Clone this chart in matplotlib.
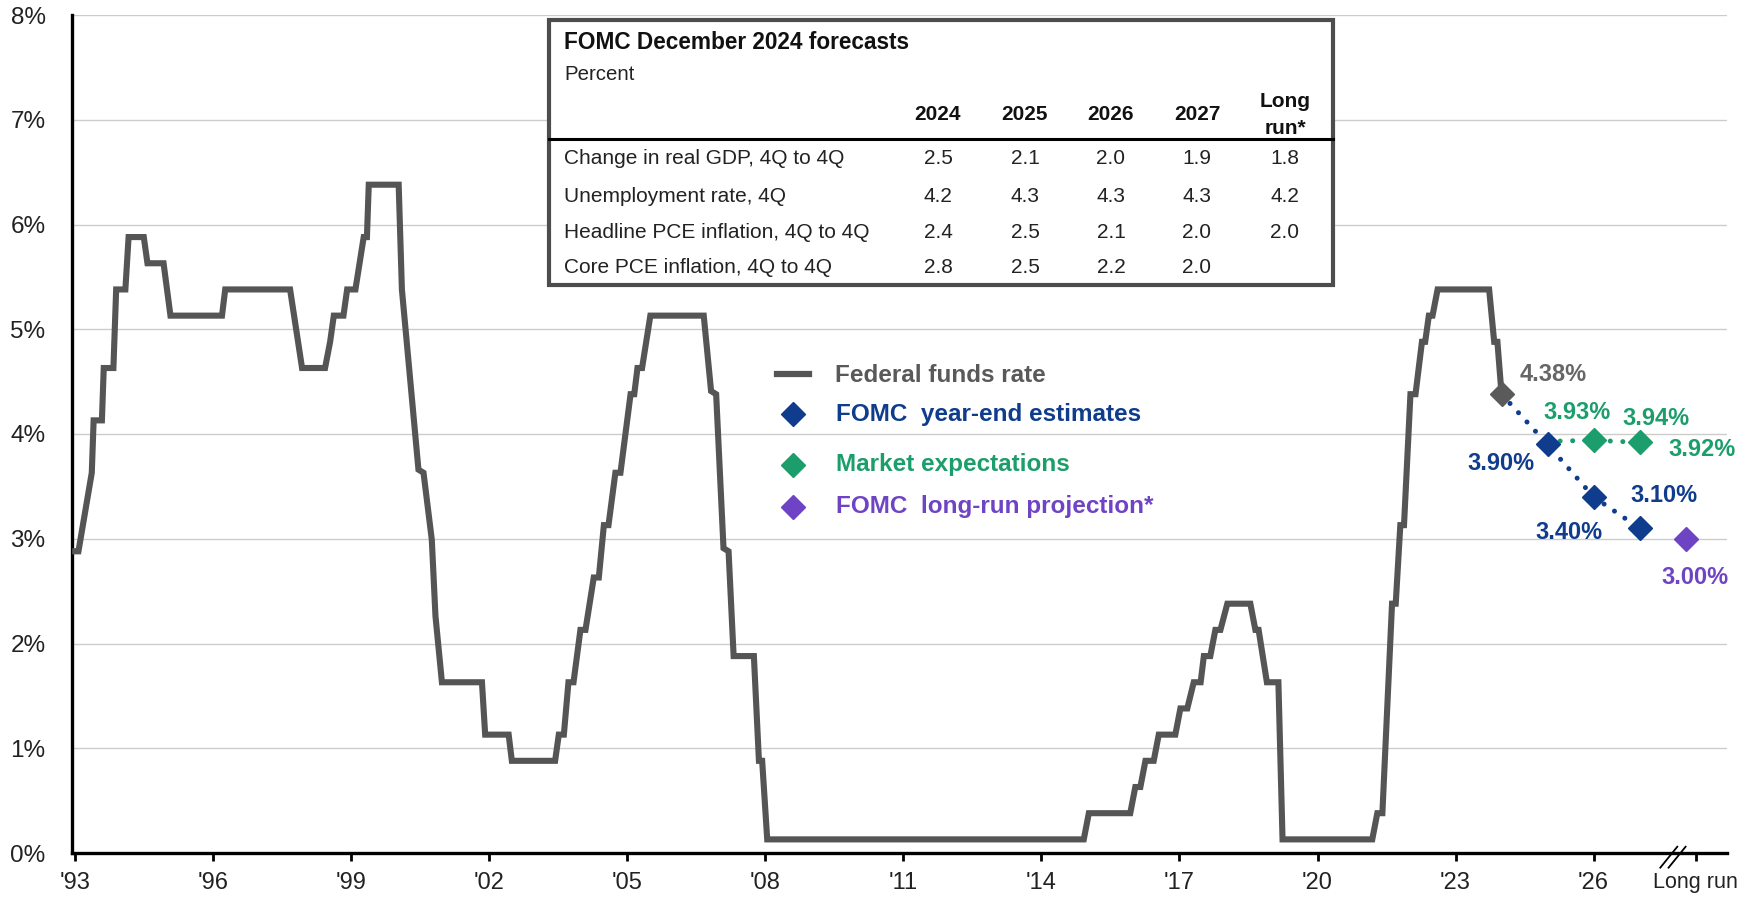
import matplotlib
matplotlib.use('Agg')
import matplotlib.pyplot as plt
from matplotlib.lines import Line2D
from matplotlib.patches import Rectangle

plt.rcParams['font.family'] = ['Liberation Sans', 'DejaVu Sans']

# Federal funds rate, vertices of the line (x in chart-year units)
FFR_X = [
    1993.00, 1993.07, 1993.36, 1993.40, 1993.58, 1993.62, 1993.83, 1993.89, 1994.09, 1994.16,
    1994.49, 1994.57, 1994.92, 1995.07, 1996.19, 1996.26, 1997.67, 1997.93, 1998.43, 1998.54,
    1998.62, 1998.83, 1998.91, 1999.09, 1999.27, 1999.34, 1999.38, 2000.03, 2000.10, 2000.46,
    2000.57, 2000.75, 2000.83, 2000.97, 2001.84, 2001.91, 2002.42, 2002.49, 2003.43, 2003.51,
    2003.62, 2003.72, 2003.83, 2003.98, 2004.09, 2004.27, 2004.38, 2004.49, 2004.59, 2004.74,
    2004.85, 2005.07, 2005.15, 2005.22, 2005.32, 2005.50, 2006.66, 2006.82, 2006.93, 2007.09,
    2007.20, 2007.31, 2007.75, 2007.86, 2007.93, 2008.04, 2014.92, 2015.03, 2015.93, 2016.04,
    2016.15, 2016.26, 2016.44, 2016.55, 2016.91, 2017.02, 2017.17, 2017.31, 2017.46, 2017.53,
    2017.67, 2017.78, 2017.89, 2018.04, 2018.54, 2018.65, 2018.72, 2018.90, 2019.15, 2019.24,
    2021.19, 2021.30, 2021.41, 2021.62, 2021.70, 2021.80, 2021.88, 2022.02, 2022.13, 2022.27,
    2022.34, 2022.42, 2022.50, 2022.61, 2023.73, 2023.84, 2023.91, 2024.00]
FFR_Y = [
    2.88, 2.88, 3.63, 4.13, 4.13, 4.63, 4.63, 5.38, 5.38, 5.88,
    5.88, 5.63, 5.63, 5.13, 5.13, 5.38, 5.38, 4.63, 4.63, 4.88,
    5.13, 5.13, 5.38, 5.38, 5.88, 5.88, 6.38, 6.38, 5.38, 3.66,
    3.63, 2.99, 2.26, 1.63, 1.63, 1.13, 1.13, 0.88, 0.88, 1.13,
    1.13, 1.63, 1.63, 2.13, 2.13, 2.63, 2.63, 3.13, 3.13, 3.63,
    3.63, 4.38, 4.38, 4.63, 4.63, 5.13, 5.13, 4.41, 4.38, 2.91,
    2.88, 1.88, 1.88, 0.88, 0.88, 0.13, 0.13, 0.38, 0.38, 0.63,
    0.63, 0.88, 0.88, 1.13, 1.13, 1.38, 1.38, 1.63, 1.63, 1.88,
    1.88, 2.13, 2.13, 2.38, 2.38, 2.13, 2.13, 1.63, 1.63, 0.13,
    0.13, 0.38, 0.38, 2.38, 2.38, 3.13, 3.13, 4.38, 4.38, 4.88,
    4.88, 5.13, 5.13, 5.38, 5.38, 4.88, 4.88, 4.38]

# FOMC year-end estimates (first point = current rate)
FOMC_X = [2024, 2025, 2026, 2027]
FOMC_Y = [4.38, 3.90, 3.40, 3.10]
# market expectations
MARKET_X = [2025, 2026, 2027]
MARKET_Y = [3.93, 3.94, 3.92]
# long-run projection
LONG_RUN_X = 2028.0
LONG_RUN_Y = 3.00

TICK_YEARS = [1993, 1996, 1999, 2002, 2005, 2008, 2011, 2014, 2017, 2020, 2023, 2026]
TICK_LABELS = ["'93", "'96", "'99", "'02", "'05", "'08", "'11", "'14", "'17", "'20", "'23", "'26"]
LONG_RUN_TICK = 2028.22
Y_TICKS = [0, 1, 2, 3, 4, 5, 6, 7, 8]

TABLE_TITLE = 'FOMC December 2024 forecasts'
TABLE_COLS = ['2024', '2025', '2026', '2027', 'Long\nrun*']
TABLE_ROWS = ['Change in real GDP, 4Q to 4Q', 'Unemployment rate, 4Q',
              'Headline PCE inflation, 4Q to 4Q', 'Core PCE inflation, 4Q to 4Q']
TABLE_VALUES = [['2.5', '2.1', '2.0', '1.9', '1.8'],
                ['4.2', '4.3', '4.3', '4.3', '4.2'],
                ['2.4', '2.5', '2.1', '2.0', '2.0'],
                ['2.8', '2.5', '2.2', '2.0', '']]

GRAY = '#555555'
BLUE = '#0f3c8c'
GREEN = '#1c9e6c'
PURPLE = '#6f44c4'

W, H = 1756, 902


def fx(x):
    return x / W


def fy(y):
    return 1 - y / H


fig = plt.figure(figsize=(W / 100, H / 100), dpi=100)
ax = fig.add_axes([fx(72), fy(853), (1727 - 72) / W, (853 - 15) / H])

# grid + axes
ax.set_xlim(1992.93, 2028.9)
ax.set_ylim(0, 8)
for v in Y_TICKS[1:]:
    ax.axhline(v, color='#cccccc', lw=1, zorder=1)
for side in ['top', 'right']:
    ax.spines[side].set_visible(False)
for side in ['left', 'bottom']:
    ax.spines[side].set_linewidth(2.4)
    ax.spines[side].set_color('black')
ax.set_yticks(Y_TICKS)
ax.set_yticklabels([f'{v}%' for v in Y_TICKS], fontsize=17.5, color='#222222')
ax.tick_params(axis='y', length=0, pad=19)
ax.set_xticks(TICK_YEARS + [LONG_RUN_TICK])
ax.set_xticklabels(TICK_LABELS + ['Long run'], fontsize=17, color='#222222')
ax.get_xticklabels()[-1].set_fontsize(15.5)
ax.tick_params(axis='x', length=6, width=2, direction='out', pad=8)

# axis break marks
for dx in [0.0, 0.18]:
    ax.plot([2027.45 + dx, 2027.82 + dx], [-0.14, 0.06], color='black', lw=1.3,
            clip_on=False, zorder=6)

# fed funds rate
ax.plot(FFR_X, FFR_Y, color=GRAY, lw=4.4, solid_joinstyle='miter', zorder=3)

# projections
ax.plot(MARKET_X, MARKET_Y, color=GREEN, lw=3.6, linestyle=(0, (0.01, 2.5)),
        dash_capstyle='round', zorder=4)
ax.plot(FOMC_X, FOMC_Y, color=BLUE, lw=3.6, linestyle=(0, (0.01, 2.5)),
        dash_capstyle='round', zorder=4)
ax.plot(MARKET_X[1:], MARKET_Y[1:], 'D', color=GREEN, ms=12, zorder=5)
ax.plot(FOMC_X[1:], FOMC_Y[1:], 'D', color=BLUE, ms=12, zorder=6)
ax.plot(FOMC_X[0], FOMC_Y[0], 'D', color='#5a5a5a', ms=12, zorder=6)
ax.plot(LONG_RUN_X, LONG_RUN_Y, 'D', color=PURPLE, ms=12, zorder=6)

# point labels
lab = dict(fontsize=17, weight='bold', ha='center', va='center', zorder=7)
ax.text(2025.13, 4.57, f'{FOMC_Y[0]:.2f}%', color='#666666', **lab)
ax.text(2023.98, 3.72, f'{FOMC_Y[1]:.2f}%', color=BLUE, **lab)
ax.text(2025.46, 3.06, f'{FOMC_Y[2]:.2f}%', color=BLUE, **lab)
ax.text(2027.52, 3.41, f'{FOMC_Y[3]:.2f}%', color=BLUE, **lab)
ax.text(2025.65, 4.21, f'{MARKET_Y[0]:.2f}%', color=GREEN, **lab)
ax.text(2027.35, 4.15, f'{MARKET_Y[1]:.2f}%', color=GREEN, **lab)
ax.text(2028.35, 3.85, f'{MARKET_Y[2]:.2f}%', color=GREEN, **lab)
ax.text(2028.2, 2.63, f'{LONG_RUN_Y:.2f}%', color=PURPLE, **lab)

# legend (drawn by hand)
fig.add_artist(Line2D([fx(777), fx(809)], [fy(374), fy(374)], color=GRAY, lw=4.5))
fig.text(fx(835), fy(375), 'Federal funds rate', fontsize=17.5, weight='bold',
         color='#595959', va='center')
legend_items = [(414, 'FOMC  year-end estimates', BLUE),
                (465, 'Market expectations', GREEN),
                (507, 'FOMC  long-run projection*', PURPLE)]
for y, text, c in legend_items:
    fig.add_artist(Line2D([fx(793)], [fy(y)], marker='D', color=c, ms=12, lw=0))
    fig.text(fx(836), fy(y), text, fontsize=17.5, weight='bold', color=c, va='center')

# forecast table
fig.add_artist(Rectangle((fx(549), fy(285)), (1333 - 549) / W, (285 - 20) / H,
                         transform=fig.transFigure, facecolor='white',
                         edgecolor='#4d4d4d', lw=3, zorder=5))
fig.text(fx(564), fy(49), TABLE_TITLE, fontsize=16.3, weight='bold', color='#111111',
         va='baseline', zorder=6)
fig.text(fx(564), fy(80), 'Percent', fontsize=14.7, color='#222222', va='baseline', zorder=6)
col_x = [938, 1025, 1111, 1197, 1285]
for cx, col in zip(col_x, TABLE_COLS):
    fig.text(fx(cx), fy(115), col, fontsize=15, weight='bold', color='#111111',
             ha='center', va='center', multialignment='center', linespacing=1.5, zorder=6)
fig.add_artist(Line2D([fx(549), fx(1333)], [fy(139), fy(139)], color='black', lw=2.2, zorder=6))
row_y = [164, 202, 238, 273]
for ry, name, vals in zip(row_y, TABLE_ROWS, TABLE_VALUES):
    fig.text(fx(564), fy(ry), name, fontsize=15, color='#222222', va='baseline', zorder=6)
    for cx, v in zip(col_x, vals):
        fig.text(fx(cx), fy(ry), v, fontsize=15, color='#222222', ha='center',
                 va='baseline', zorder=6)

fig.savefig('out.png', dpi=100)
